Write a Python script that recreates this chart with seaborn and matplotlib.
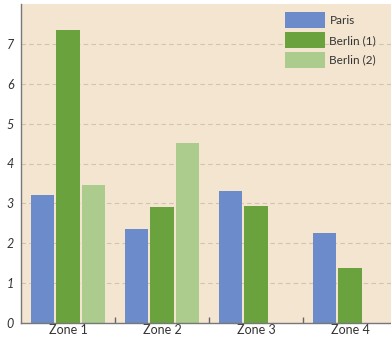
import matplotlib
matplotlib.use("Agg")
import matplotlib.pyplot as plt
import seaborn as sns
import pandas as pd

zones = ["Zone 1", "Zone 2", "Zone 3", "Zone 4"]
series = ["Paris", "Berlin (1)", "Berlin (2)"]
paris = [3.21, 2.35, 3.30, 2.25]
berlin_1 = [7.36, 2.90, 2.94, 1.39]
berlin_2 = [3.45, 4.51, None, None]
colors = ["#6b8bcb", "#6aa33e", "#abcc8c"]

rows = []
for name, vals in zip(series, [paris, berlin_1, berlin_2]):
    for z, v in zip(zones, vals):
        if v is not None:
            rows.append({"zone": z, "series": name, "value": v})
df = pd.DataFrame(rows)

sns.set_theme(style="white")
plt.rcParams["font.family"] = ["Lato", "DejaVu Sans"]

fig = plt.figure(figsize=(3.91, 3.38), dpi=100)
ax = fig.add_axes([21 / 391, 15 / 338, 370 / 391, 319 / 338])
ax.set_facecolor("#f3e5d0")

sns.barplot(data=df, x="zone", y="value", hue="series", order=zones,
            hue_order=series, palette=colors, width=0.8, gap=0.08,
            saturation=1, linewidth=0, edgecolor="none", ax=ax, legend=True)

ax.set_xlim(-0.5, 3.436)
ax.set_ylim(0, 8)
ax.set_yticks(range(8))
ax.set_yticklabels([str(i) for i in range(8)], fontstyle="italic", fontsize=9,
                   color="#333333")
ax.set_xlabel("")
ax.set_ylabel("")
ax.tick_params(axis="x", length=0, labelsize=9, labelcolor="#333333", pad=1)
ax.tick_params(axis="y", length=3, color="#999999", pad=2)
ax.set_xticks([0.5, 1.5, 2.5], minor=True)
ax.tick_params(axis="x", which="minor", direction="in", length=4,
               color="#666666", bottom=True)

for y in range(1, 8):
    ax.axhline(y, color="#cfc3b2", linestyle=(0, (4, 3)), linewidth=0.8,
               zorder=0)

for side in ["top", "right"]:
    ax.spines[side].set_visible(False)
ax.spines["left"].set_color("#777777")
ax.spines["bottom"].set_color("#777777")
ax.spines["left"].set_linewidth(1)
ax.spines["bottom"].set_linewidth(1)

leg = ax.legend(loc="upper left", bbox_to_anchor=(0.714, 0.975), frameon=False,
                fontsize=8.5, handlelength=3.4, handleheight=1.75,
                labelspacing=0.3, handletextpad=0.35, borderaxespad=0,
                borderpad=0)
for t in leg.get_texts():
    t.set_color("#333333")

fig.savefig("out.png", dpi=100)
